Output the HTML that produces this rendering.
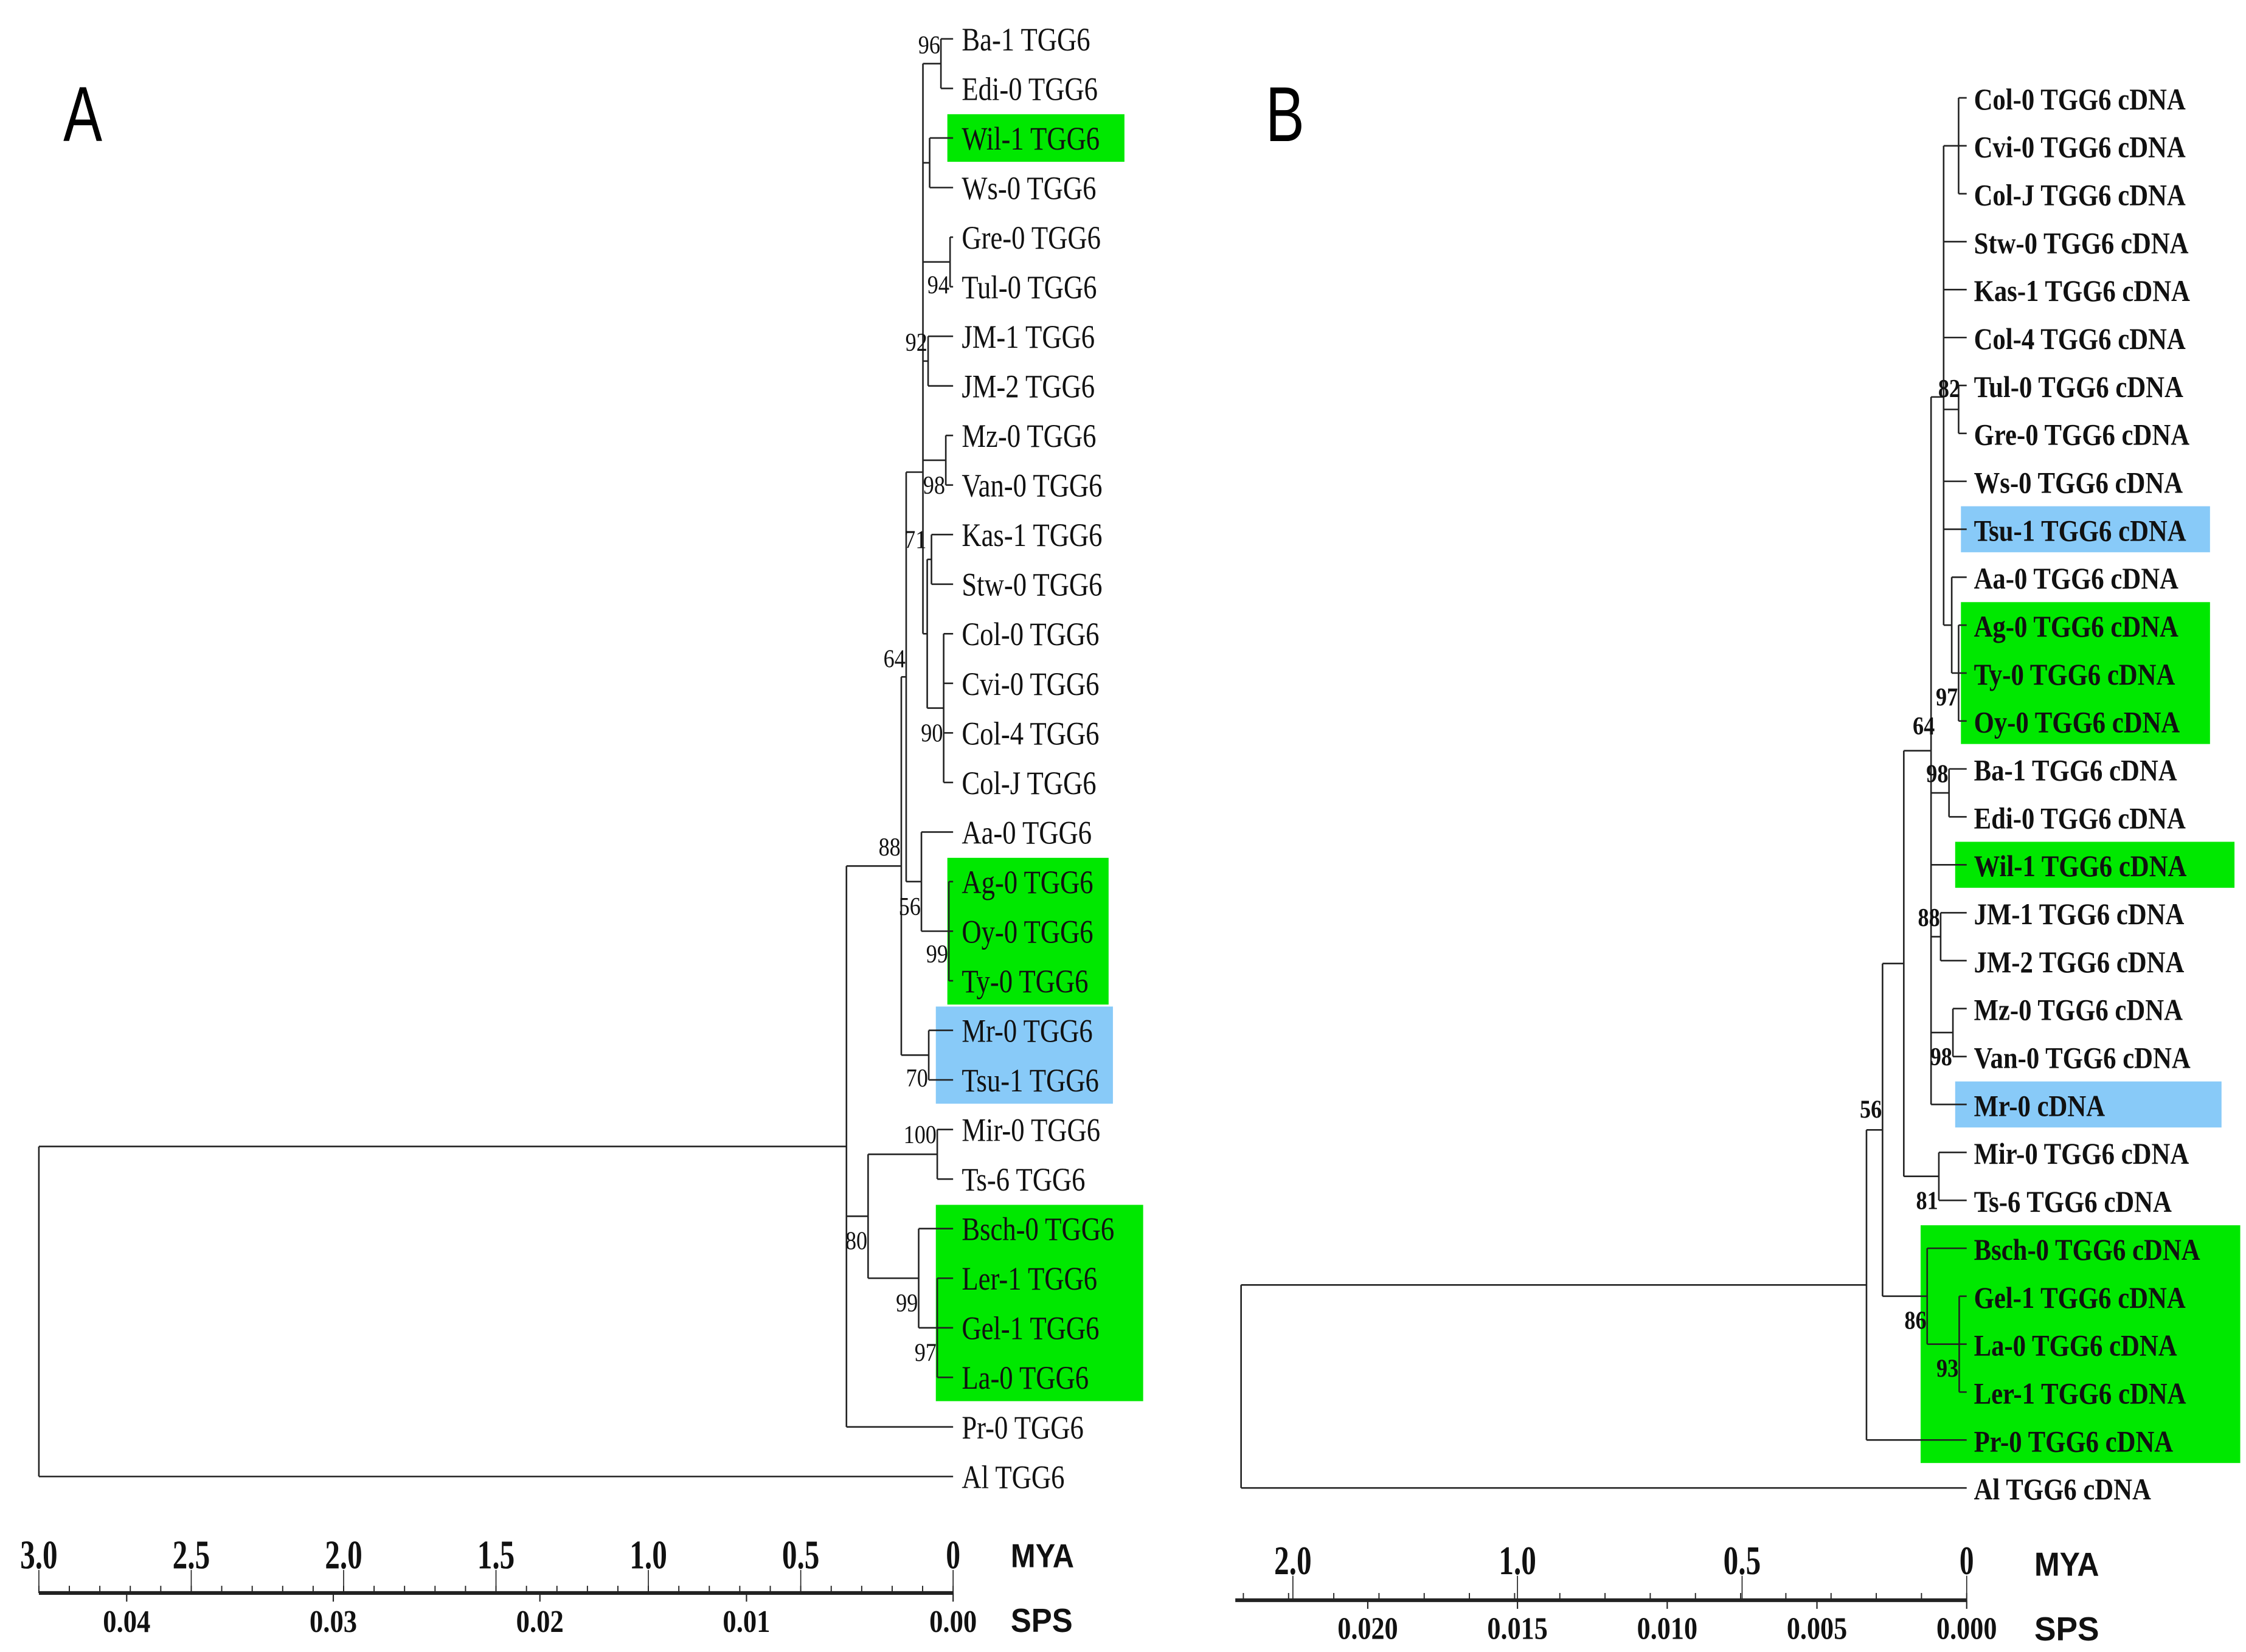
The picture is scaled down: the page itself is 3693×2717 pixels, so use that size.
<!DOCTYPE html>
<html><head><meta charset="utf-8"><style>
html,body{margin:0;padding:0;background:#fff;}
svg{display:block;}
.lf{font-family:"Liberation Serif",serif;font-size:23px;fill:#111;}
.lfb{font-family:"Liberation Serif",serif;font-size:21px;font-weight:bold;fill:#111;}
.bs{font-family:"Liberation Serif",serif;font-size:18px;fill:#111;}
.bsb{font-family:"Liberation Serif",serif;font-size:18px;font-weight:bold;fill:#111;}
.tk{font-family:"Liberation Serif",serif;font-size:28px;font-weight:bold;fill:#111;}
.tks{font-family:"Liberation Serif",serif;font-size:22px;font-weight:bold;fill:#111;}
.ax{font-family:"Liberation Sans",sans-serif;font-size:23px;font-weight:bold;fill:#111;}
.pl{font-family:"Liberation Sans",sans-serif;font-size:54px;fill:#000;}
</style></head><body>
<svg id="fig" width="3693" height="2717" viewBox="0 0 1560 1148" preserveAspectRatio="none" xmlns="http://www.w3.org/2000/svg">
<g id="bg"></g><g id="tree"></g><g id="txt"></g>
</svg>
<script>
// ---------- Panel A data ----------
const leavesA = ["Ba-1 TGG6","Edi-0 TGG6","Wil-1 TGG6","Ws-0 TGG6","Gre-0 TGG6","Tul-0 TGG6","JM-1 TGG6","JM-2 TGG6","Mz-0 TGG6","Van-0 TGG6","Kas-1 TGG6","Stw-0 TGG6","Col-0 TGG6","Cvi-0 TGG6","Col-4 TGG6","Col-J TGG6","Aa-0 TGG6","Ag-0 TGG6","Oy-0 TGG6","Ty-0 TGG6","Mr-0 TGG6","Tsu-1 TGG6","Mir-0 TGG6","Ts-6 TGG6","Bsch-0 TGG6","Ler-1 TGG6","Gel-1 TGG6","La-0 TGG6","Pr-0 TGG6","Al TGG6"];
const nodeIdsA  = ["n96","nWil","n94","n92","n98","nKS","n90","n71","nTop","n99a","n56","n64","n70","n88","n100","n97","n99b","n80","nMain","root"];
const nodeAgeA  = [0.04,0.077,0.01,0.082,0.024,0.071,0.031,0.085,0.099,0.014,0.104,0.154,0.08,0.17,0.052,0.052,0.113,0.279,0.35,3.0];
const nodeKidsA = [["L0","L1"],["L2","L3"],["L4","L5"],["L6","L7"],["L8","L9"],["L10","L11"],["L12","L13","L14","L15"],["nKS","n90"],["n96","nWil","n94","n92","n98","n71"],["L17","L18","L19"],["L16","n99a"],["nTop","n56"],["L20","L21"],["n64","n70"],["L22","L23"],["L25","L26","L27"],["L24","n97"],["n100","n99b"],["n88","n80","L28"],["nMain","L29"]];
const nodeCyA   = {nTop:8.74};
const bootA     = {n96:96,n94:94,n92:92,n98:98,n71:71,n64:64,n90:90,n88:88,n56:56,n99a:99,n70:70,n100:100,n80:80,n99b:99,n97:97};
const bootPosA  = {n96:0.12,n94:4.96,n92:6.12,n98:9.0,n71:10.1,n64:12.5,n90:14.0,n88:16.3,n56:17.5,n99a:18.46,n70:20.96,n100:22.1,n80:24.24,n99b:25.5,n97:26.5};
const hiA = [[2,2,"g"],[17,19,"g"],[20,21,"b"],[24,27,"g"]];
const myaTicksA = [3.0,2.5,2.0,1.5,1.0,0.5,0];
const myaLabA = ["3.0","2.5","2.0","1.5","1.0","0.5","0"];
const spsTicksA = [0.04,0.03,0.02,0.01,0.00];
const spsLabA = ["0.04","0.03","0.02","0.01","0.00"];

// ---------- Panel B data ----------
const leavesB = ["Col-0 TGG6 cDNA","Cvi-0 TGG6 cDNA","Col-J TGG6 cDNA","Stw-0 TGG6 cDNA","Kas-1 TGG6 cDNA","Col-4 TGG6 cDNA","Tul-0 TGG6 cDNA","Gre-0 TGG6 cDNA","Ws-0 TGG6 cDNA","Tsu-1 TGG6 cDNA","Aa-0 TGG6 cDNA","Ag-0 TGG6 cDNA","Ty-0 TGG6 cDNA","Oy-0 TGG6 cDNA","Ba-1 TGG6 cDNA","Edi-0 TGG6 cDNA","Wil-1 TGG6 cDNA","JM-1 TGG6 cDNA","JM-2 TGG6 cDNA","Mz-0 TGG6 cDNA","Van-0 TGG6 cDNA","Mr-0 cDNA","Mir-0 TGG6 cDNA","Ts-6 TGG6 cDNA","Bsch-0 TGG6 cDNA","Gel-1 TGG6 cDNA","La-0 TGG6 cDNA","Ler-1 TGG6 cDNA","Pr-0 TGG6 cDNA","Al TGG6 cDNA"];
const nodeIdsB  = ["nColG","nTG","n97","nAa","n82","n98a","n88","n98b","nMid","n81","n64","n93","n86","n56","nR","root"];
const nodeAgeB  = [0.00027,0.00027,0.00027,0.0005,0.00077,0.00059,0.00087,0.00046,0.00119,0.00093,0.0021,0.00025,0.00132,0.00281,0.003346,0.02423];
const nodeKidsB = [["L0","L1","L2"],["L6","L7"],["L11","L12","L13"],["L10","n97"],["nColG","L3","L4","L5","nTG","L8","L9","nAa"],["L14","L15"],["L17","L18"],["L19","L20"],["n82","n98a","L16","n88","n98b","L21"],["L22","L23"],["nMid","n81"],["L25","L26","L27"],["L24","n93"],["n64","n86"],["n56","L28"],["nR","L29"]];
const nodeCyB   = {n82:6.24};
const bootB     = {n82:82,n97:97,n64:64,n98a:98,n88:88,n98b:98,n56:56,n81:81,n86:86,n93:93};
const bootPosB  = {n82:6.06,n97:12.5,n64:13.1,n98a:14.1,n88:17.1,n98b:20.0,n56:21.1,n81:23.0,n86:25.5,n93:26.5};
const bootDxB   = {n82:12,n64:22};
const hiB = [[9,9,"b"],[11,13,"g"],[16,16,"g"],[21,21,"b"],[24,28,"g"]];
const myaLabB = ["2.0","1.0","0.5","0"];
const myaSpsB = [0.0225,0.015,0.0075,0];
const spsTicksB = [0.020,0.015,0.010,0.005,0.000];
const spsLabB = ["0.020","0.015","0.010","0.005","0.000"];

const NS="http://www.w3.org/2000/svg";
const G=document.getElementById('tree'), BG=document.getElementById('bg'), T=document.getElementById('txt');
function mk(tag,attrs,parent){const e=document.createElementNS(NS,tag);for(const k in attrs)e.setAttribute(k,attrs[k]);parent.appendChild(e);return e;}
function line(x1,y1,x2,y2,w,name){const e=mk('line',{x1:x1,y1:y1,x2:x2,y2:y2,stroke:'#222','stroke-width':w||1.1},G);

return e;}
function text(x,y,s,cls,name,anchor,tl){const e=mk('text',{x:x,y:y,class:cls},T);if(anchor)e.setAttribute('text-anchor',anchor);if(tl){e.setAttribute('textLength',tl);e.setAttribute('lengthAdjust','spacingAndGlyphs');}e.textContent=s;

return e;}
function condense(e,f){const L=e.getComputedTextLength();e.setAttribute('textLength',L*f);e.setAttribute('lengthAdjust','spacingAndGlyphs');}

function drawTree(cfg){
  const {leaves,ids,ages,kids,cyOver,boot,bootPos,bootDx,xs,ys,labelX,leafCls,bsCls,hi,hiX0,hiX1,panel,cf}=cfg;
  hi.forEach((h,i)=>{const y0=ys(h[0]-0.48),y1=ys(h[1]+0.48);
    const r=mk('rect',{x:hiX0[i],y:y0,width:hiX1[i]-hiX0[i],height:y1-y0,fill:h[2]==='g'?'#00e800':'#88caf8'},BG);
    
    });
  const pos={};
  leaves.forEach((s,i)=>{pos['L'+i]={x:xs(0),yi:i};
    const t=text(labelX,ys(i)+8,s,leafCls,panel+'-leaf-'+s.toLowerCase().replace(/[^a-z0-9]+/g,'-'));condense(t,cf);});
  ids.forEach((id,k)=>{
    const ch=kids[k].map(c=>pos[c]);
    const x=xs(ages[k]);
    const yi0=Math.min(...ch.map(c=>c.yi)), yi1=Math.max(...ch.map(c=>c.yi));
    line(x,ys(yi0),x,ys(yi1),1.1,panel+'-node-'+id);
    ch.forEach((c,j)=>line(x,ys(c.yi),c.x,ys(c.yi),1.1,panel+'-branch-'+id+'-'+j));
    const yi=(cyOver[id]!==undefined)?cyOver[id]:(yi0+yi1)/2;
    pos[id]={x:x,yi:yi};
    if(boot[id]!==undefined){const t=text(x-0.5+(bootDx&&bootDx[id]||0),ys(bootPos[id])+6,String(boot[id]),bsCls,panel+'-bootstrap-'+id,'end');condense(t,0.85);}
  });
}

const xA = m => 662 - m*(662-27)/3.0;
const yA = i => 27 + i*34.45;
drawTree({leaves:leavesA,ids:nodeIdsA,ages:nodeAgeA,kids:nodeKidsA,cyOver:nodeCyA,boot:bootA,bootPos:bootPosA,xs:xA,ys:yA,labelX:668,leafCls:'lf',bsCls:'bs',hi:hiA,hiX0:[658,658,650,650],hiX1:[781,770,773,794],panel:'a',cf:0.82});
const xB = s => 1366 - s*20800;
const yB = i => 68 + i*33.31;
drawTree({leaves:leavesB,ids:nodeIdsB,ages:nodeAgeB,kids:nodeKidsB,cyOver:nodeCyB,boot:bootB,bootPos:bootPosB,bootDx:bootDxB,xs:xB,ys:yB,labelX:1371,leafCls:'lfb',bsCls:'bsb',hi:hiB,hiX0:[1362,1362,1358,1358,1334],hiX1:[1535,1535,1552,1543,1556],panel:'b',cf:0.86});

text(44,98,'A','pl','panel-a-label',null,27);
text(879,98,'B','pl','panel-b-label',null,27);

const axYA=1107, spsA = s => 662 - s*14350;
line(27,axYA,662,axYA,2.6,'a-axis-line');
for(let k=0;k<=30;k++){line(xA(k/10),axYA,xA(k/10),axYA-5,0.8,'a-minor-tick');}
myaTicksA.forEach((m,i)=>{line(xA(m),axYA,xA(m),axYA-16,0.7,'a-mya-tick');
  text(xA(m),1090,myaLabA[i],'tk','a-mya-label-'+myaLabA[i],'middle',myaLabA[i].length>1?26:10);});
spsTicksA.forEach((s,i)=>{line(spsA(s),axYA,spsA(s),axYA+6,0.9,'a-sps-tick');
  text(spsA(s),1134,spsLabA[i],'tks','a-sps-label-'+spsLabA[i],'middle',33);});
text(702,1089,'MYA','ax','a-mya-title',null,44);
text(702,1134,'SPS','ax','a-sps-title',null,43);

const axYB=1112;
line(858,axYB,1366,axYB,2.6,'b-axis-line');
for(let k=0;k<=16;k++){const x=1366-k*31.4;line(x,axYB,x,axYB-5,0.8,'b-minor-tick');}
myaLabB.forEach((l,i)=>{const x=xB(myaSpsB[i]);line(x,axYB,x,axYB-17,0.7,'b-mya-tick');
  text(x,1094,l,'tk','b-mya-label-'+l,'middle',l.length>1?26:10);});
spsTicksB.forEach((s,i)=>{const x=xB(s);line(x,axYB,x,axYB+6,0.9,'b-sps-tick');
  text(x,1139,spsLabB[i],'tks','b-sps-label-'+spsLabB[i],'middle',42);});
text(1413,1095,'MYA','ax','b-mya-title',null,45);
text(1413,1140,'SPS','ax','b-sps-title',null,45);
</script>
</body></html>
